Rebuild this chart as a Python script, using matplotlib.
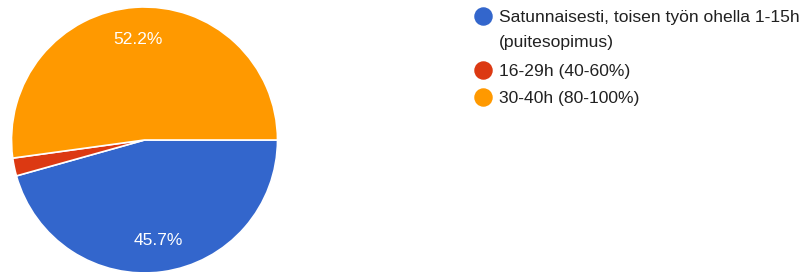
import matplotlib.pyplot as plt
from matplotlib.lines import Line2D

plt.rcParams['font.family'] = ['Liberation Sans', 'DejaVu Sans']

# Vastausten määrät (45.7 %, 2.2 %, 52.2 %)
labels = [
    "Satunnaisesti, toisen työn ohella 1-15h\n(puitesopimus)",
    "16-29h (40-60%)",
    "30-40h (80-100%)",
]
counts = [21, 1, 24]
colors = ["#3366CC", "#DC3912", "#FF9900"]

W, H = 807, 272
fig = plt.figure(figsize=(W / 100, H / 100), dpi=100)
fig.patch.set_facecolor("white")

# pie centre ~ (144, 140) px, radius ~133 px
cx, cy, r = 144.5, 140, 133
ax = fig.add_axes([(cx - r) / W, (H - cy - r) / H, 2 * r / W, 2 * r / H])


def pct_label(p):
    return f"{p:.1f}%" if p > 5 else ""


wedges, texts, autotexts = ax.pie(
    counts,
    colors=colors,
    startangle=0,
    counterclock=False,
    autopct=pct_label,
    pctdistance=0.76,
    wedgeprops=dict(edgecolor="white", linewidth=1.2),
    textprops=dict(color="white", fontsize=12.5),
)
ax.set_xlim(-1, 1)
ax.set_ylim(-1, 1)
ax.set_aspect("auto")

# legend drawn by hand to match Google Forms layout
legend_rows = [16, 70, 97]
line_gap = 25
for lab, col, y in zip(labels, colors, legend_rows):
    fig.add_artist(Line2D([483 / W], [1 - y / H], marker="o", markersize=12.3,
                          color=col, linestyle="none", transform=fig.transFigure))
    for i, part in enumerate(lab.split("\n")):
        fig.text(499 / W, 1 - (y + i * line_gap) / H, part, color="#212121",
                 fontsize=12.6, va="center_baseline", ha="left")

fig.savefig("out.png", dpi=100)
